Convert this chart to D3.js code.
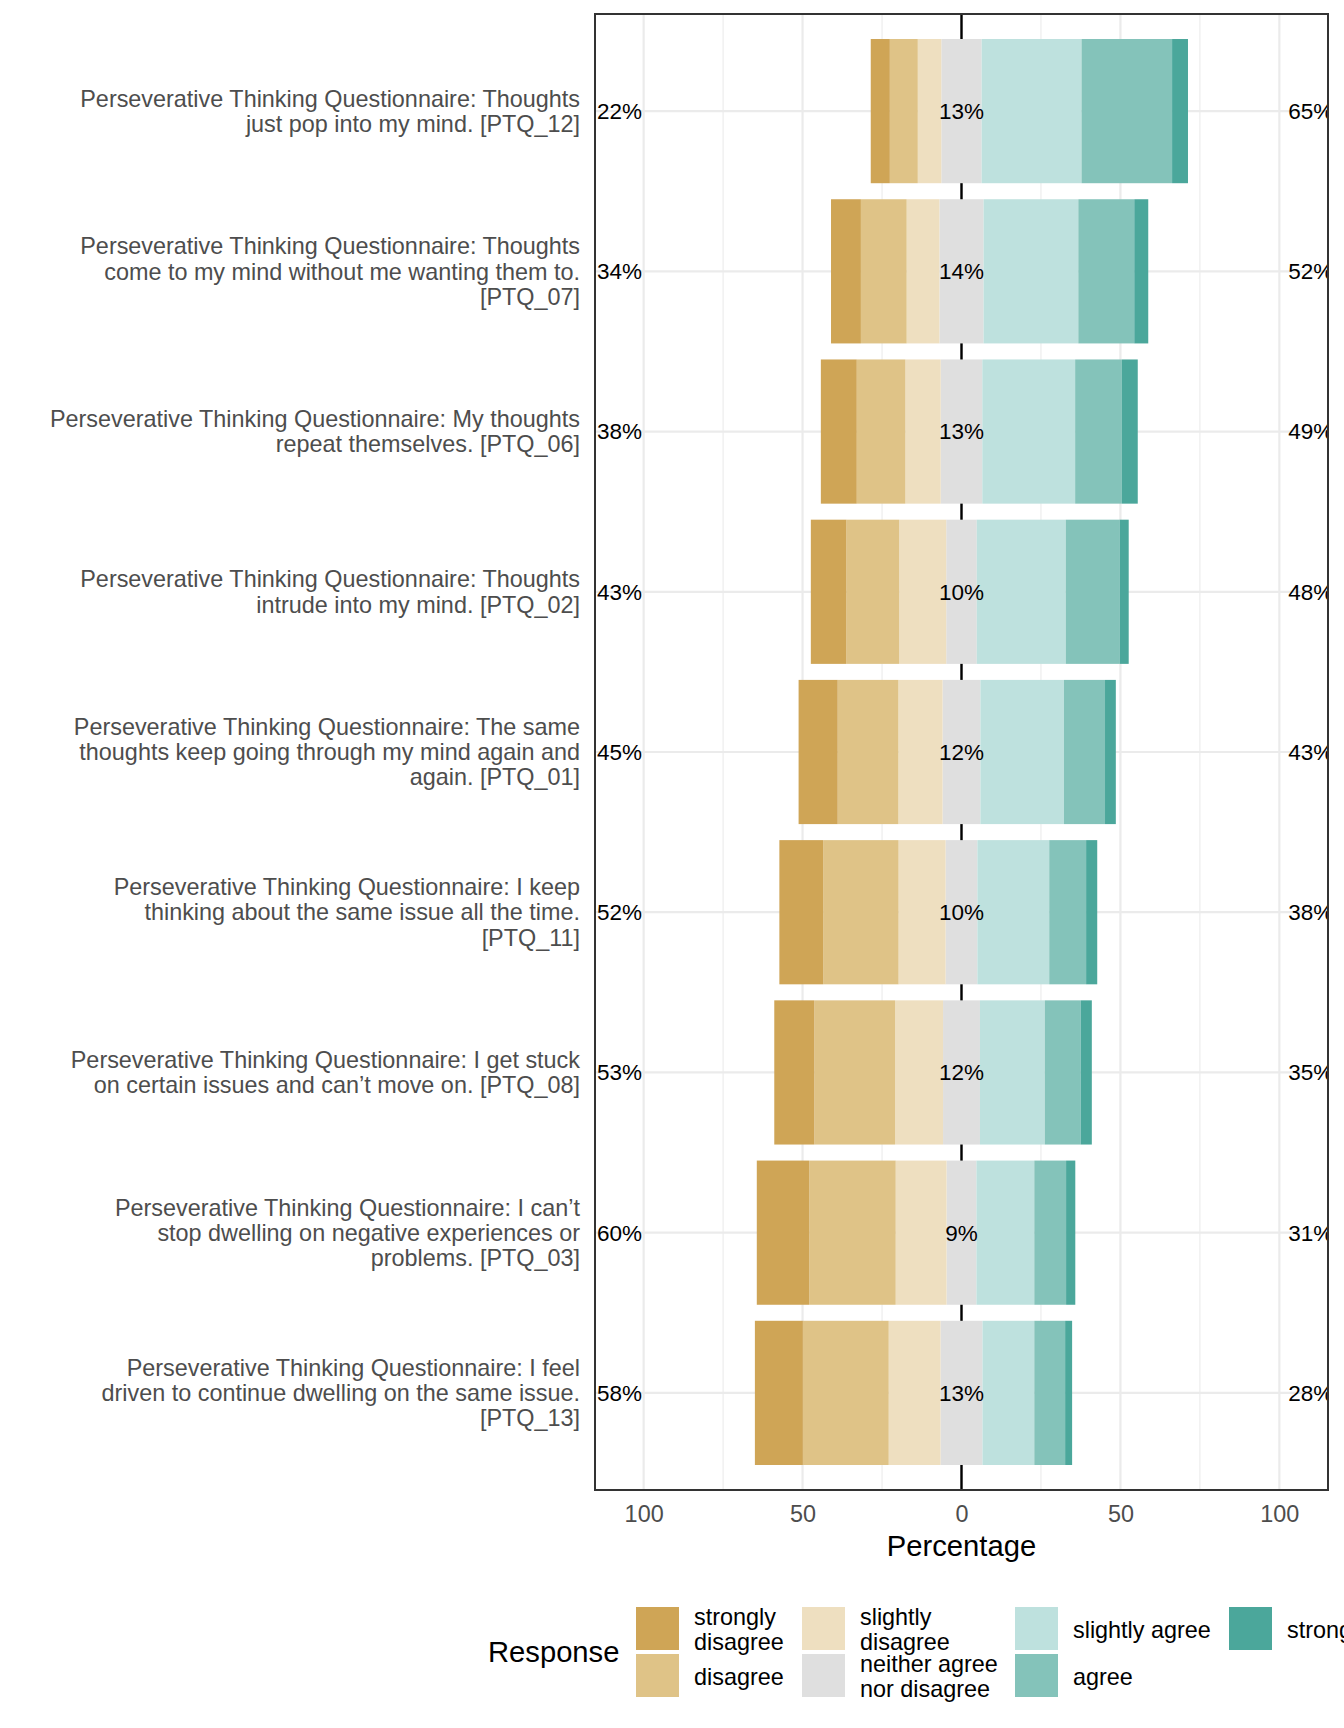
<!DOCTYPE html>
<html>
<head>
<meta charset="utf-8">
<script src="https://cdn.jsdelivr.net/npm/d3@7"></script>
<style>
  body { margin: 0; background: #fff; }
  text { font-family: "Liberation Sans", Arial, sans-serif; }
</style>
</head>
<body>
<div id="chart"></div>
<script>
// item labels, top to bottom
var items = [
  "Perseverative Thinking Questionnaire: Thoughts\njust pop into my mind. [PTQ_12]",
  "Perseverative Thinking Questionnaire: Thoughts\ncome to my mind without me wanting them to.\n[PTQ_07]",
  "Perseverative Thinking Questionnaire: My thoughts\nrepeat themselves. [PTQ_06]",
  "Perseverative Thinking Questionnaire: Thoughts\nintrude into my mind. [PTQ_02]",
  "Perseverative Thinking Questionnaire: The same\nthoughts keep going through my mind again and\nagain. [PTQ_01]",
  "Perseverative Thinking Questionnaire: I keep\nthinking about the same issue all the time.\n[PTQ_11]",
  "Perseverative Thinking Questionnaire: I get stuck\non certain issues and can\u2019t move on. [PTQ_08]",
  "Perseverative Thinking Questionnaire: I can\u2019t\nstop dwelling on negative experiences or\nproblems. [PTQ_03]",
  "Perseverative Thinking Questionnaire: I feel\ndriven to continue dwelling on the same issue.\n[PTQ_13]"
];

// percentages per response level
var stronglyDisagree = [6.0, 9.4, 11.3, 11.2, 12.3, 13.8, 12.6, 16.5, 15.1];
var disagree         = [8.8, 14.4, 15.3, 16.6, 19.1, 23.7, 25.4, 27.2, 27.0];
var slightlyDisagree = [7.4, 10.3, 11.1, 14.8, 13.9, 14.8, 15.1, 16.0, 16.3];
var neither          = [12.7, 13.9, 13.1, 9.6, 11.9, 10.0, 11.6, 9.4, 13.2];
var slightlyAgree    = [31.4, 29.8, 29.2, 28.0, 26.3, 22.6, 20.4, 18.2, 16.3];
var agree            = [28.5, 17.6, 14.7, 17.0, 12.9, 11.6, 11.3, 10.0, 9.7];
var stronglyAgree    = [5.0, 4.4, 5.0, 2.8, 3.4, 3.5, 3.5, 2.9, 2.2];

var levels = ["strongly disagree", "disagree", "slightly disagree", "neither agree nor disagree",
              "slightly agree", "agree", "strongly agree"];
var legendLabels = ["strongly\ndisagree", "disagree", "slightly\ndisagree", "neither agree\nnor disagree",
                    "slightly agree", "agree", "strongly agree"];
var colors = ["#CFA556", "#DFC387", "#EEDFC0", "#DFDFDF", "#BEE1DE", "#84C3BA", "#4BA79B"];
var xTicks = [-100, -50, 0, 50, 100];
var xMinor = [-75, -25, 25, 75];

function init() {
    var W = 1344, H = 1728;
    var pl = 595, pr = 1328, pt = 14, pb = 1490;

    var svg = d3.select("#chart").append("svg")
        .attr("width", W).attr("height", H);

    var x = d3.scaleLinear().domain([-115.3, 115.3]).range([pl, pr]);
    var y = d3.scaleBand().domain(items).range([pt + 17, pb - 17])
        .paddingInner(0.1).paddingOuter(0.05);

    var series = [stronglyDisagree, disagree, slightlyDisagree, neither, slightlyAgree, agree, stronglyAgree];

    // build segments, neutral split around zero
    var segs = [];
    items.forEach(function(it, i) {
        var half = neither[i] / 2;
        segs.push({item: it, lvl: 3, x0: -half, x1: half});
        var pos = -half;
        [2, 1, 0].forEach(function(l) {
            segs.push({item: it, lvl: l, x0: pos - series[l][i], x1: pos});
            pos -= series[l][i];
        });
        pos = half;
        [4, 5, 6].forEach(function(l) {
            segs.push({item: it, lvl: l, x0: pos, x1: pos + series[l][i]});
            pos += series[l][i];
        });
    });

    svg.append("defs").append("clipPath").attr("id", "panel")
        .append("rect").attr("x", pl).attr("y", pt).attr("width", pr - pl).attr("height", pb - pt);

    var panel = svg.append("g").attr("clip-path", "url(#panel)");

    // grid
    panel.selectAll(".minor").data(xMinor).enter().append("line")
        .attr("x1", d => x(d)).attr("x2", d => x(d)).attr("y1", pt).attr("y2", pb)
        .attr("stroke", "#EBEBEB").attr("stroke-width", 1.1);
    panel.selectAll(".major").data(xTicks).enter().append("line")
        .attr("x1", d => x(d)).attr("x2", d => x(d)).attr("y1", pt).attr("y2", pb)
        .attr("stroke", "#EBEBEB").attr("stroke-width", 2.2);
    panel.selectAll(".hgrid").data(items).enter().append("line")
        .attr("x1", pl).attr("x2", pr)
        .attr("y1", d => y(d) + y.bandwidth() / 2).attr("y2", d => y(d) + y.bandwidth() / 2)
        .attr("stroke", "#EBEBEB").attr("stroke-width", 2.2);

    // zero line (under the bars)
    panel.append("line")
        .attr("x1", x(0)).attr("x2", x(0)).attr("y1", pt).attr("y2", pb)
        .attr("stroke", "#000").attr("stroke-width", 2.4);

    // bars
    panel.selectAll(".seg").data(segs).enter().append("rect")
        .attr("x", d => x(d.x0))
        .attr("width", d => x(d.x1) - x(d.x0))
        .attr("y", d => y(d.item))
        .attr("height", y.bandwidth())
        .attr("fill", d => colors[d.lvl]);

    // percent labels
    items.forEach(function(it, i) {
        var cy = y(it) + y.bandwidth() / 2;
        var low = stronglyDisagree[i] + disagree[i] + slightlyDisagree[i];
        var high = slightlyAgree[i] + agree[i] + stronglyAgree[i];
        panel.append("text").attr("x", pl + 2).attr("y", cy).attr("dy", "0.35em")
            .attr("font-size", 22.5).attr("fill", "#000").text(Math.round(low) + "%");
        panel.append("text").attr("x", x(0)).attr("y", cy).attr("dy", "0.35em")
            .attr("text-anchor", "middle")
            .attr("font-size", 22.5).attr("fill", "#000").text(Math.round(neither[i]) + "%");
        panel.append("text").attr("x", x(102.8)).attr("y", cy).attr("dy", "0.35em")
            .attr("font-size", 22.5).attr("fill", "#000").text(Math.round(high) + "%");
    });

    // panel border
    svg.append("rect").attr("x", pl).attr("y", pt).attr("width", pr - pl).attr("height", pb - pt)
        .attr("fill", "none").attr("stroke", "#333333").attr("stroke-width", 2);

    // x axis
    var xAxis = svg.append("g").attr("transform", "translate(0," + pb + ")")
        .call(d3.axisBottom(x).tickValues(xTicks).tickSize(0).tickPadding(15)
              .tickFormat(d => Math.abs(d)));
    xAxis.select(".domain").remove();
    xAxis.selectAll("text").attr("font-size", 23.4).attr("fill", "#4D4D4D")
        .attr("font-family", "Liberation Sans, Arial, sans-serif");

    svg.append("text").attr("x", x(0)).attr("y", 1546).attr("dy", "0.35em")
        .attr("text-anchor", "middle").attr("font-size", 29.2).attr("fill", "#000")
        .text("Percentage");

    // y axis labels
    var yAxis = svg.append("g").attr("transform", "translate(" + (pl - 15) + ",0)")
        .call(d3.axisLeft(y).tickSize(0).tickPadding(0));
    yAxis.select(".domain").remove();
    yAxis.selectAll(".tick text").each(function(d) {
        var lines = d.split("\n");
        var t = d3.select(this).text(null).attr("font-size", 23.4).attr("fill", "#4D4D4D")
            .attr("font-family", "Liberation Sans, Arial, sans-serif")
            .attr("text-anchor", "end").attr("x", 0).attr("dy", null);
        var lh = 25.3;
        lines.forEach(function(l, k) {
            t.append("tspan").attr("x", 0)
                .attr("y", (k - (lines.length - 1) / 2) * lh)
                .attr("dy", "0.35em").text(l);
        });
    });

    // legend
    var key = 43, step = 47;
    var colX = [636, 802, 1015, 1229];
    var rowY = 1607;
    svg.append("text").attr("x", 488).attr("y", 1652).attr("dy", "0.35em")
        .attr("font-size", 29.2).attr("fill", "#000").text("Response");
    var lg = svg.selectAll(".lg").data(levels).enter().append("g")
        .attr("transform", function(d, i) {
            return "translate(" + colX[Math.floor(i / 2)] + "," + (rowY + (i % 2) * step) + ")";
        });
    lg.append("rect").attr("width", key).attr("height", key)
        .attr("fill", (d, i) => colors[i]);
    lg.append("text").attr("font-size", 23.4).attr("fill", "#000")
        .each(function(d, i) {
            var lines = legendLabels[i].split("\n");
            var t = d3.select(this);
            lines.forEach(function(l, k) {
                t.append("tspan").attr("x", 58)
                    .attr("y", key / 2 + 1 + (k - (lines.length - 1) / 2) * 25.3)
                    .attr("dy", "0.35em").text(l);
            });
        });
}

window.onload = init;
</script>
</body>
</html>
